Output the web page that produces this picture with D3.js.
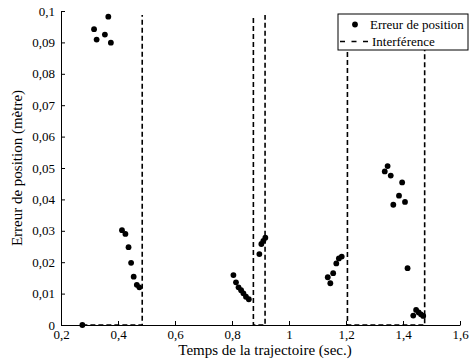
<!DOCTYPE html>
<html>
<head>
<meta charset="utf-8">
<script src="https://cdn.jsdelivr.net/npm/d3@7"></script>
<style>
  html, body { margin: 0; padding: 0; background: #fff; }
  svg { display: block; }
  svg text { font-family: "Liberation Serif", Tinos, "Times New Roman", Times, "DejaVu Serif", serif; fill: #000; }
</style>
</head>
<body>
<svg id="chart" width="472" height="362"></svg>
<script>
// Position error samples: time (s) and error (m)
const errTime = [
  0.275,
  0.316, 0.325, 0.354, 0.366, 0.375,
  0.414, 0.426, 0.437, 0.446, 0.455, 0.466, 0.475,
  0.805, 0.814, 0.823, 0.832, 0.840, 0.849, 0.859,
  0.896, 0.903, 0.910, 0.917,
  1.136, 1.145, 1.155, 1.166, 1.175, 1.185,
  1.336, 1.346, 1.357, 1.366, 1.386, 1.397, 1.407, 1.416,
  1.436, 1.446, 1.455, 1.463, 1.471
];
const errValue = [
  0.0,
  0.0942, 0.0909, 0.0925, 0.0982, 0.0899,
  0.0302, 0.0290, 0.0248, 0.0198, 0.0154, 0.0128, 0.0120,
  0.0159, 0.0136, 0.0120, 0.0111, 0.0101, 0.0090, 0.0082,
  0.0226, 0.0258, 0.0268, 0.0278,
  0.0152, 0.0133, 0.0165, 0.0196, 0.0212, 0.0218,
  0.0489, 0.0506, 0.0476, 0.0383, 0.0412, 0.0454, 0.0392, 0.0181,
  0.0030, 0.0048, 0.0040, 0.0034, 0.0029
];

// Interference signal (step function, high level lies above the axis range)
const interfTime  = [0.275, 0.485, 0.485, 0.875, 0.875, 0.916, 0.916, 1.205, 1.205, 1.476, 1.476];
const interfValue = [0,     0,     0.2,   0.2,   0,     0,     0.2,   0.2,   0,     0,     0.2];

const xTicks = [0.2, 0.4, 0.6, 0.8, 1.0, 1.2, 1.4, 1.6];
const yTicks = [0, 0.01, 0.02, 0.03, 0.04, 0.05, 0.06, 0.07, 0.08, 0.09, 0.1];

const legendLabels = ["Erreur de position", "Interférence"];
const xTitle = "Temps de la trajectoire (sec.)";
const yTitle = "Erreur de position (mètre)";

const SERIF = '"Liberation Serif", Tinos, "Times New Roman", Times, "DejaVu Serif", serif';

const margin = { left: 61, top: 11, right: 12, bottom: 37 };
const W = 472, H = 362;
const svg = d3.select("#chart");

const x = d3.scaleLinear().domain([0.2, 1.6]).range([margin.left, W - margin.right]);
const y = d3.scaleLinear().domain([0, 0.1]).range([H - margin.bottom, margin.top]);

const fmt = d => String(+d.toFixed(2)).replace(".", ",");

// Clip region: the data area, starting a few pixels below the top tick
svg.append("defs").append("clipPath").attr("id", "plotclip")
  .append("rect")
  .attr("x", x(0.2)).attr("y", y(0.1) + 4)
  .attr("width", x(1.6) - x(0.2)).attr("height", y(0) - y(0.1) - 4);

// Interference dashed line
const line = d3.line().x(d => x(d[0])).y(d => y(d[1]));
svg.append("path")
  .attr("clip-path", "url(#plotclip)")
  .attr("d", line(interfTime.map((t, i) => [t, interfValue[i]])))
  .attr("fill", "none").attr("stroke", "#000")
  .attr("stroke-width", 1.6).attr("stroke-dasharray", "5,3");

// Axes
const xAxis = d3.axisBottom(x).tickValues(xTicks).tickFormat(fmt).tickSizeInner(-4).tickSizeOuter(0).tickPadding(5);
const yAxis = d3.axisLeft(y).tickValues(yTicks).tickFormat(fmt).tickSizeInner(-4).tickSizeOuter(0).tickPadding(6);

const gx = svg.append("g").attr("transform", `translate(0,${y(0)})`).call(xAxis);
const gy = svg.append("g").attr("transform", `translate(${x(0.2)},0)`).call(yAxis);
[gx, gy].forEach(g => {
  g.attr("font-family", SERIF).attr("font-size", 13);
  g.selectAll("path, line").attr("stroke", "#000").attr("stroke-width", 1);
  g.selectAll("text").attr("fill", "#000");
});

// Error points
svg.append("g").selectAll("circle")
  .data(errTime.map((t, i) => [t, errValue[i]]))
  .join("circle")
  .attr("cx", d => x(d[0])).attr("cy", d => y(d[1]))
  .attr("r", 2.9).attr("fill", "#000");

// Axis titles
svg.append("text")
  .attr("x", 265).attr("y", 355)
  .attr("text-anchor", "middle").attr("font-family", SERIF).attr("font-size", 15)
  .text(xTitle);
svg.append("text")
  .attr("transform", `translate(22,${(y(0) + y(0.1)) / 2}) rotate(-90)`)
  .attr("text-anchor", "middle").attr("font-family", SERIF).attr("font-size", 15)
  .text(yTitle);

// Legend
const lg = svg.append("g").attr("font-family", SERIF).attr("font-size", 13);
lg.append("rect").attr("x", 338).attr("y", 14).attr("width", 130).attr("height", 36)
  .attr("fill", "#fff").attr("stroke", "#000").attr("stroke-width", 1);
lg.append("circle").attr("cx", 355).attr("cy", 24.5).attr("r", 2.9).attr("fill", "#000");
lg.append("line").attr("x1", 340).attr("x2", 369).attr("y1", 41.5).attr("y2", 41.5)
  .attr("stroke", "#000").attr("stroke-width", 1.6).attr("stroke-dasharray", "5,6.5");
lg.append("text").attr("x", 370).attr("y", 29).text(legendLabels[0]);
lg.append("text").attr("x", 372).attr("y", 45.5).text(legendLabels[1]);
</script>
</body>
</html>
